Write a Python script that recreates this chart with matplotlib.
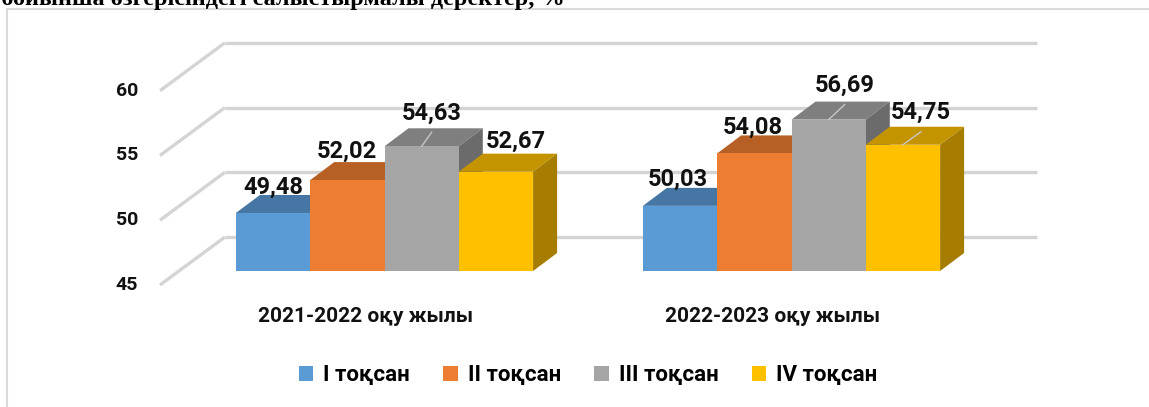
import matplotlib
matplotlib.use("Agg")
import matplotlib.pyplot as plt
from matplotlib.patches import Polygon, Patch
from matplotlib.lines import Line2D
from matplotlib.colors import to_rgb
import numpy as np

plt.rcParams['font.family'] = ['Roboto', 'DejaVu Sans']

# data
years = ['2021-2022 оқу жылы', '2022-2023 оқу жылы']
quarters = ['I тоқсан', 'II тоқсан', 'III тоқсан', 'IV тоқсан']
q1 = [49.48, 50.03]
q2 = [52.02, 54.08]
q3 = [54.63, 56.69]
q4 = [52.67, 54.75]
series = [q1, q2, q3, q4]
yticks = [45, 50, 55, 60]
title = 'білім сапасының тоқсандар бойынша өзгерісіндегі салыстырмалы деректер, %'

colors = ['#5B9BD5', '#ED7D31', '#A5A5A5', '#FFC000']

# label offsets in pixels (dx, dy up) from the top of each bar front, and leader flags
lab_off = [[(0, 26), (-2, 27)], [(0, 29), (-2, 26)],
           [(10, 33), (16, 34)], [(20, 30), (18, 32)]]
leader = [[False, False], [False, False], [True, True], [False, True]]

W, H = 1149, 407
fig = plt.figure(figsize=(W / 100, H / 100), dpi=100)
ax = fig.add_axes([0, 0, 1, 1])
ax.axis('off')

# scale of the bar front plane
sx = 407.0      # px per group
sy = 12.95      # px per value unit
base = 45
ax.set_xlim(-384.5 / sx, (W - 384.5) / sx)
ax.set_ylim(base - (H - 271) / sy, base + 271 / sy)


def off(dx, dy):
    return dx / sx, dy / sy


w = 74.3 / sx
dep = off(24, 18)     # bar depth
back = off(46, 34)    # back wall
front = off(-19, -14)  # front edge of floor
xL, xR = -0.505, 1.49

# gridlines: back wall + left wall
for v in yticks:
    ax.plot([xL + back[0], xR + back[0]], [v + back[1], v + back[1]],
            color='#d4d4d4', lw=2.4, solid_capstyle='butt', zorder=1)
    ax.plot([xL + front[0], xL + back[0]], [v + front[1], v + back[1]],
            color='#d4d4d4', lw=2.4, solid_capstyle='butt', zorder=1)
    ax.text(xL + front[0] - 22 / sx, v + front[1], str(v), ha='right', va='center',
            fontsize=14, fontweight='bold', color='#111111')

# bars
z = 2
for k, vals in enumerate(series):
    c = np.array(to_rgb(colors[k]))
    top_c = c * 0.77
    side_c = c * 0.65
    xs = np.arange(len(vals)) + (k - 1.5) * w
    for x, v in zip(xs, vals):
        x0, x1 = x - w / 2, x + w / 2
        ax.add_patch(Polygon([(x0, v), (x1, v), (x1 + dep[0], v + dep[1]), (x0 + dep[0], v + dep[1])],
                             closed=True, facecolor=top_c, edgecolor='none', zorder=z))
        ax.add_patch(Polygon([(x1, base), (x1 + dep[0], base + dep[1]), (x1 + dep[0], v + dep[1]), (x1, v)],
                             closed=True, facecolor=side_c, edgecolor='none', zorder=z))
    ax.bar(xs, np.array(vals) - base, bottom=base, width=w, color=colors[k],
           edgecolor='none', zorder=z)
    z += 0.1

# value labels
for k, vals in enumerate(series):
    xs = np.arange(len(vals)) + (k - 1.5) * w
    for g, (x, v) in enumerate(zip(xs, vals)):
        dx, dy = lab_off[k][g]
        ax.annotate(f'{v:.2f}'.replace('.', ','), xy=(x, v), xytext=(dx, dy),
                    textcoords='offset pixels', ha='center', va='center',
                    fontsize=17, fontweight='bold', color='#111111', zorder=10)
        if leader[k][g]:
            ax.plot([x, x + dx / sx], [v, v + (dy - 19) / sy], color='#c8c8c8',
                    lw=1, zorder=9)

# category labels
for g, name in enumerate(years):
    ax.text(g + front[0], base + front[1] - 32 / sy, name, ha='center', va='center',
            fontsize=15, fontweight='bold', color='#111111')

# legend
handles = [Patch(facecolor=c, edgecolor='none') for c in colors]
fig.legend(handles, quarters, loc='center', bbox_to_anchor=(588 / W, 1 - 375 / H),
           ncol=4, frameon=False, prop=dict(weight='bold', size=16),
           handlelength=0.65, handleheight=0.65, handletextpad=0.45,
           columnspacing=1.5, borderaxespad=0)

# chart border and the cut-off title above it
fig.add_artist(Line2D([7 / W, 7 / W], [0, 1 - 9 / H], transform=fig.transFigure,
                      color='#d9d9d9', lw=1.5))
fig.add_artist(Line2D([7 / W, 1], [1 - 9 / H, 1 - 9 / H], transform=fig.transFigure,
                      color='#d9d9d9', lw=1.5))
fig.text(565 / W, 1 - 5 / H, title, ha='right', va='baseline',
         family='Liberation Serif', fontweight='bold', fontsize=17.5)

fig.savefig('out.png', dpi=100)
